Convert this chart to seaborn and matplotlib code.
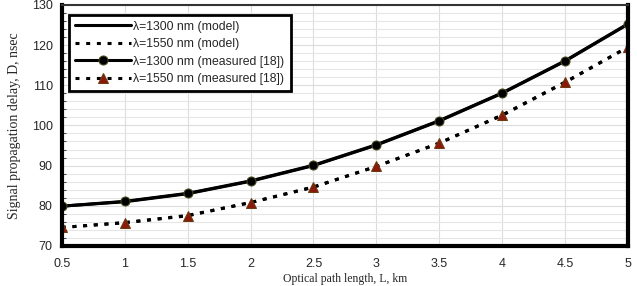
import numpy as np
import pandas as pd
import matplotlib.pyplot as plt
import seaborn as sns
from matplotlib.ticker import MultipleLocator

sns.set_style('white')
plt.rcParams['font.family'] = ['Liberation Sans', 'DejaVu Sans']

# --- datos ---
length_km = [0.5, 1, 1.5, 2, 2.5, 3, 3.5, 4, 4.5, 5]
model_1300 = [79.9, 81.0, 83.0, 86.1, 90.0, 95.1, 101.1, 108.0, 116.0, 125.2]
model_1550 = [74.6, 75.8, 77.6, 80.8, 84.7, 89.8, 95.6, 102.6, 110.8, 119.5]
meas_1300 = [79.9, 81.1, 83.1, 86.2, 90.1, 95.2, 101.2, 108.1, 116.1, 125.3]
meas_1550 = [74.6, 75.8, 77.5, 80.8, 84.6, 89.8, 95.6, 102.5, 110.7, 119.5]
x_labels = ['0.5', '1', '1.5', '2', '2.5', '3', '3.5', '4', '4.5', '5']

df = pd.DataFrame({'L': length_km, 'm1300': model_1300, 'm1550': model_1550,
                   'e1300': meas_1300, 'e1550': meas_1550})

fig = plt.figure(figsize=(6.37, 2.86), dpi=100)
ax = fig.add_axes([0.097, 0.140, 0.889, 0.843])

sns.lineplot(data=df, x='L', y='m1300', ax=ax, color='black', linewidth=2.2,
             label='λ=1300 nm (model)')
sns.lineplot(data=df, x='L', y='m1550', ax=ax, color='black', linewidth=2.2,
             linestyle=(0, (1.3, 2.2)), label='λ=1550 nm (model)')
sns.lineplot(data=df, x='L', y='e1300', ax=ax, color='black', linewidth=2.2,
             marker='o', markersize=6.5, markerfacecolor='black',
             markeredgecolor='#4a4a20', label='λ=1300 nm (measured [18])')
sns.lineplot(data=df, x='L', y='e1550', ax=ax, color='black', linewidth=2.2,
             linestyle=(0, (1.3, 2.2)), marker='^', markersize=6.5,
             markerfacecolor='#8b1a0a', markeredgecolor='#6b3a10',
             label='λ=1550 nm (measured [18])')

ax.set_xlim(0.5, 5)
ax.set_ylim(70, 130)
ax.yaxis.set_major_locator(MultipleLocator(10))
ax.yaxis.set_minor_locator(MultipleLocator(2))
ax.set_xticks(length_km)
ax.set_xticklabels(x_labels)

ax.grid(True, which='major', color='#dcdcdc', linewidth=0.8)
ax.grid(True, which='minor', axis='y', color='#e6e6e6', linewidth=0.8)
ax.tick_params(axis='both', which='major', labelsize=9, length=3, color='black',
               direction='out')
ax.tick_params(axis='y', which='minor', length=3, direction='in', left=True)
ax.tick_params(axis='x', pad=6)

for side in ['left', 'bottom', 'right']:
    ax.spines[side].set_linewidth(3)
    ax.spines[side].set_color('black')
ax.spines['top'].set_linewidth(1.5)
ax.spines['top'].set_color('#333333')

ax.set_ylabel('Signal propagation delay, D, nsec', fontfamily='Liberation Serif',
              fontsize=10, labelpad=8)
ax.set_xlabel('Optical path length, L, km', fontfamily='Liberation Serif',
              fontsize=8.5)
ax.xaxis.set_label_coords(0.5, -0.163)
ax.xaxis.label.set_va('bottom')

leg = ax.legend(loc='upper left', bbox_to_anchor=(0.013, 0.96), fontsize=8.8,
                handlelength=4.6, handletextpad=0.15, labelspacing=0.45,
                borderpad=0.5, borderaxespad=0, fancybox=False, framealpha=1)
leg.get_frame().set_edgecolor('black')
leg.get_frame().set_linewidth(2)

plt.savefig('out.png', dpi=100)
